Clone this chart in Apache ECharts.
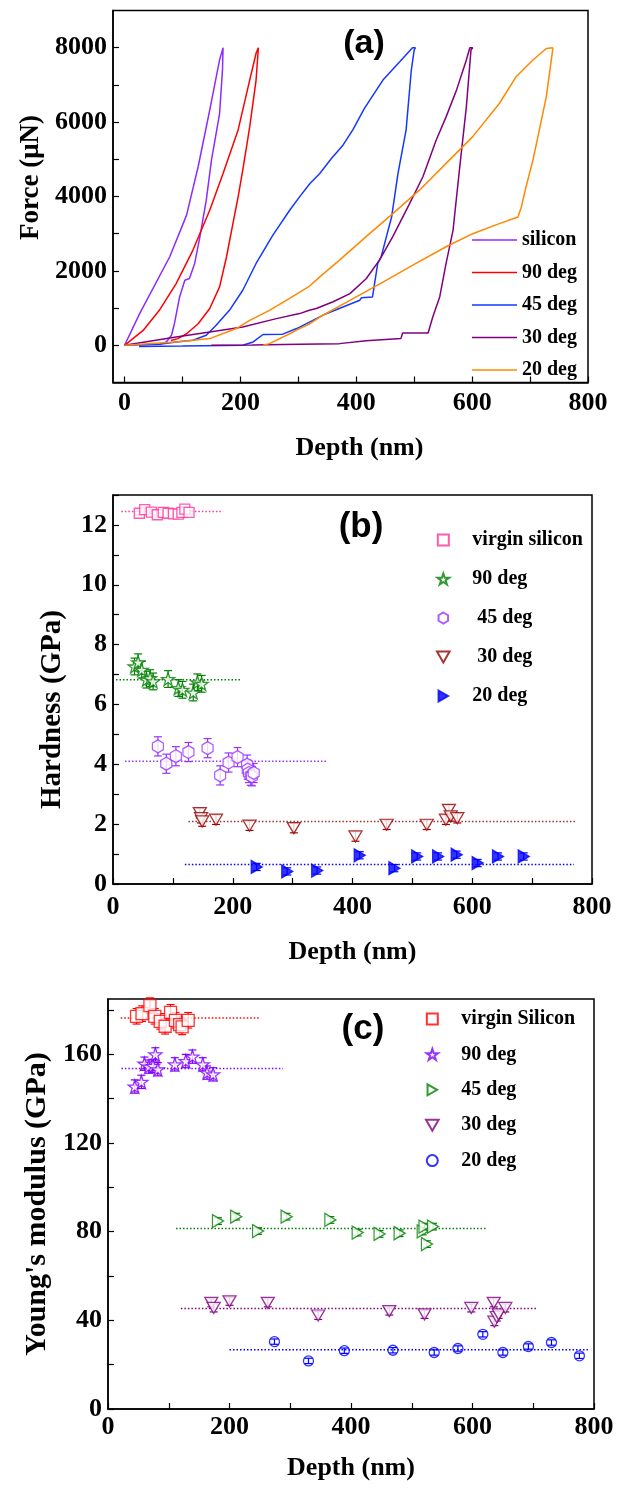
<!DOCTYPE html>
<html>
<head>
<meta charset="utf-8" />
<title></title>
<script src="https://cdn.jsdelivr.net/npm/echarts@6/dist/echarts.min.js"></script>
<style>
	body { margin: 0; background: #fff; }
	#main { width: 626px; height: 1492px; }
</style>
</head>
<body>
<div id="main"></div>
<script>
// ---------- (a) load-displacement curves (depth nm, force uN) ----------
var siDepth = [0, 26, 78, 107, 127, 147, 164, 170, 173, 169, 164, 150, 141, 130, 121, 112, 104, 95, 86, 81, 72, 60];
var siForce = [0, 850, 2380, 3500, 4800, 6320, 7670, 8000, 8000, 7400, 6230, 4980, 3900, 2915, 2200, 1795, 1750, 1300, 580, 270, 90, 25];
var d90Depth = [0, 32, 60, 89, 118, 147, 170, 196, 216, 227, 231, 233, 227, 216, 204, 196, 187, 176, 164, 147, 127, 107, 92, 80];
var d90Force = [0, 400, 940, 1660, 2560, 3630, 4620, 5790, 7130, 7850, 8000, 8000, 7130, 5870, 4710, 3990, 3270, 2380, 1570, 990, 580, 310, 180, 130];
var d45Depth = [0, 60, 89, 118, 141, 158, 181, 204, 227, 256, 285, 302, 320, 337, 357, 377, 394, 414, 446, 475, 497, 502, 500, 495, 486, 472, 461, 452, 443, 437, 428, 409, 406, 377, 348, 320, 297, 273, 239, 222, 204, 100, 25];
var d45Force = [0, 30, 90, 135, 270, 540, 940, 1480, 2200, 2960, 3630, 3990, 4350, 4620, 5020, 5380, 5790, 6370, 7130, 7620, 8000, 8000, 7940, 7400, 5790, 4620, 3450, 2920, 2380, 2200, 1300, 1280, 1210, 1030, 850, 630, 450, 300, 290, 90, 0, -20, -30];
var d30Depth = [0, 89, 147, 204, 262, 302, 319, 331, 360, 389, 417, 440, 463, 492, 515, 538, 555, 573, 590, 596, 601, 598, 590, 578, 567, 555, 544, 532, 524, 480, 477, 417, 371, 302, 220, 150];
var d30Force = [0, 224, 359, 493, 717, 852, 942, 990, 1170, 1390, 1790, 2290, 2920, 3810, 4530, 5520, 6140, 6860, 7670, 8000, 8000, 7940, 6410, 4710, 3090, 2200, 1300, 760, 330, 330, 180, 120, 45, 27, 10, 0];
var d20Depth = [0, 89, 147, 193, 216, 250, 285, 320, 337, 371, 417, 463, 509, 555, 601, 647, 676, 705, 728, 739, 739, 728, 716, 705, 693, 685, 679, 647, 601, 555, 503, 446, 389, 337, 320, 302, 285, 250, 239];
var d20Force = [0, 90, 180, 450, 670, 940, 1260, 1600, 1840, 2290, 2920, 3540, 4170, 4890, 5610, 6500, 7220, 7670, 7980, 8000, 7940, 6680, 5790, 4980, 4260, 3720, 3450, 3270, 3000, 2650, 2200, 1700, 1210, 760, 580, 450, 310, 45, 0];
var legendA = ['silicon', '90 deg', '45 deg', '30 deg', '20 deg'];

// ---------- (b) hardness (GPa) ----------
var hSiX = [44, 53, 64, 74, 84, 92, 101, 109, 115, 120, 127];
var hSiY = [12.39, 12.51, 12.43, 12.34, 12.42, 12.39, 12.37, 12.36, 12.42, 12.53, 12.42];
var h90X = [36, 42, 48, 56, 62, 67, 92, 109, 116, 134, 141, 148];
var h90Y = [7.27, 7.41, 7.16, 6.83, 6.88, 6.77, 6.85, 6.55, 6.49, 6.40, 6.74, 6.69];
var h45X = [75, 89, 105, 126, 158, 179, 193, 208, 224, 225, 227, 230, 232, 235];
var h45Y = [4.60, 4.02, 4.27, 4.41, 4.54, 3.63, 4.06, 4.24, 3.99, 3.82, 3.71, 3.62, 3.60, 3.71];
var h30X = [145, 147, 149, 172, 228, 302, 405, 457, 524, 556, 561, 564, 575];
var h30Y = [2.37, 2.20, 2.09, 2.15, 1.95, 1.87, 1.59, 1.98, 1.98, 2.15, 2.48, 2.26, 2.20];
var h20X = [240, 291, 341, 412, 470, 508, 543, 574, 609, 643, 686];
var h20Y = [0.57, 0.42, 0.45, 0.96, 0.53, 0.92, 0.92, 0.98, 0.70, 0.92, 0.92];
var hErr = [0.06, 0.28, 0.32, 0.16, 0.12];
// mean lines: [from depth, to depth, value]
var hMean = [[14, 184, 12.45], [5, 215, 6.83], [20, 358, 4.10], [126, 774, 2.09], [120, 770, 0.65]];
var legendB = ['virgin silicon', '90 deg', ' 45 deg', ' 30 deg', '20 deg'];

// ---------- (c) Young's modulus (GPa) ----------
var eSiX = [47, 56, 69, 77, 86, 94, 103, 111, 118, 122, 132];
var eSiY = [177.2, 178.4, 182, 177.2, 174.9, 172.7, 179, 175.4, 173.4, 172.4, 175.4];
var e90X = [44, 55, 60, 67, 74, 78, 82, 110, 128, 139, 156, 163, 173];
var e90Y = [145.5, 147.6, 155.8, 154.5, 154.8, 160, 153.3, 155.5, 157, 159, 155.5, 151.8, 151];
var e45X = [181, 211, 247, 294, 366, 411, 447, 480, 518, 521, 525, 535];
var e45Y = [84.8, 86.8, 80.3, 86.8, 85.3, 79.6, 79, 79.3, 80.1, 82.3, 74.4, 82.3];
var e30X = [170, 174, 200, 263, 346, 463, 521, 598, 635, 636, 640, 643, 654];
var e30Y = [47.9, 45.6, 48.6, 47.9, 42.2, 44.2, 42.7, 45.6, 47.9, 39.4, 41.5, 42.7, 45.6];
var e20X = [274, 330, 389, 469, 537, 576, 617, 650, 692, 730, 776];
var e20Y = [30.4, 21.7, 26.3, 26.5, 25.5, 27.3, 33.7, 25.5, 28.2, 30, 24];
var eErr = [3.5, 3, 1.5, 1.8, 1.2];
var eMean = [[21, 249, 176.4], [22, 288, 153.6], [112, 624, 81.5], [120, 706, 45.4], [200, 790, 26.7]];
var legendC = ['virgin Silicon', '90 deg', '45 deg', '30 deg', '20 deg'];

// ticks / labels
var depthTicks = [0, 100, 200, 300, 400, 500, 600, 700, 800];
var depthLabels = [0, 200, 400, 600, 800];
var forceTicks = [0, 1000, 2000, 3000, 4000, 5000, 6000, 7000, 8000];
var forceLabels = [0, 2000, 4000, 6000, 8000];
var hardTicks = [0, 1, 2, 3, 4, 5, 6, 7, 8, 9, 10, 11, 12, 13];
var hardLabels = [0, 2, 4, 6, 8, 10, 12];
var modTicks = [0, 20, 40, 60, 80, 100, 120, 140, 160, 180];
var modLabels = [0, 40, 80, 120, 160];

var SERIF = 'Liberation Serif';
// symbols as paths so legend icons keep their aspect
var STAR = 'path://M50,0 L61.8,35.1 L97.6,35.1 L68.5,56.7 L79.4,90.5 L50,69.1 L20.6,90.5 L31.5,56.7 L2.4,35.1 L38.2,35.1 Z';
var HEX = 'path://M50,0 L93.3,25 L93.3,75 L50,100 L6.7,75 L6.7,25 Z';
var SQUARE = 'path://M0,0 L100,0 L100,100 L0,100 Z';
var TRI_DOWN = 'path://M0,0 L100,0 L50,87 Z';
var TRI_RIGHT = 'path://M0,0 L87,50 L0,100 Z';
var RING = 'path://M50,0 A50,50 0 1,1 49.9,0 Z';

var names = {};
['a', 'b', 'c'].forEach(function (p, k) {
	var lab = [legendA, legendB, legendC][k];
	['Si', '90', '45', '30', '20'].forEach(function (s, i) { names[p + s] = lab[i]; });
});

function pairs(xs, ys) {
	return xs.map(function (x, i) { return [x, ys[i]]; });
}

function curve(id, xs, ys, color) {
	return {
		name: id, type: 'line', xAxisIndex: 0, yAxisIndex: 0, data: pairs(xs, ys),
		symbol: 'none', lineStyle: { color: color, width: 1.5 }, itemStyle: { color: color }
	};
}

function dots(id, g, xs, ys, color, symbol, size, fill) {
	return {
		name: id, type: 'scatter', xAxisIndex: g, yAxisIndex: g, z: 4, data: pairs(xs, ys),
		symbol: symbol, symbolSize: size,
		itemStyle: { color: fill, borderColor: color, borderWidth: 1.3 }
	};
}

function bars(g, xs, ys, err, color) {
	return {
		type: 'custom', xAxisIndex: g, yAxisIndex: g, z: 3, silent: true,
		data: xs.map(function (x, i) { return [x, ys[i], err]; }),
		encode: { x: 0, y: 1 },
		renderItem: function (params, api) {
			var x = api.value(0), y = api.value(1), e = api.value(2);
			var hi = api.coord([x, y + e]), lo = api.coord([x, y - e]);
			var st = { stroke: color, lineWidth: 1.2 };
			return {
				type: 'group', children: [
					{ type: 'line', shape: { x1: hi[0], y1: hi[1], x2: lo[0], y2: lo[1] }, style: st },
					{ type: 'line', shape: { x1: hi[0] - 4, y1: hi[1], x2: hi[0] + 4, y2: hi[1] }, style: st },
					{ type: 'line', shape: { x1: lo[0] - 4, y1: lo[1], x2: lo[0] + 4, y2: lo[1] }, style: st }
				]
			};
		}
	};
}

function mean(g, m, color) {
	return {
		type: 'line', xAxisIndex: g, yAxisIndex: g, z: 2, silent: true, symbol: 'none',
		data: [[m[0], m[2]], [m[1], m[2]]],
		lineStyle: { color: color, width: 1.5, type: [1.5, 2] }
	};
}

var txt = { fontFamily: SERIF, fontWeight: 'bold', color: '#000' };
function plain(v) { return String(v); }

function xAx(g, min, gap, margin, pad) {
	return {
		gridIndex: g, type: 'value', min: min, max: 800,
		name: 'Depth (nm)', nameLocation: 'middle', nameGap: gap,
		nameTextStyle: Object.assign({ fontSize: 26, padding: pad }, txt),
		axisLine: { onZero: false, lineStyle: { color: '#000', width: 1.5 } },
		axisTick: { inside: true, length: 6, customValues: depthTicks, lineStyle: { color: '#000', width: 1.2 } },
		axisLabel: Object.assign({ customValues: depthLabels, margin: margin, fontSize: 26, formatter: plain }, txt),
		splitLine: { show: false }
	};
}

function yAx(g, min, max, name, gap, size, ticks, labels, pad) {
	return {
		gridIndex: g, type: 'value', min: min, max: max,
		name: name, nameLocation: 'middle', nameGap: gap,
		nameTextStyle: Object.assign({ fontSize: size, padding: pad }, txt),
		axisLine: { onZero: false, lineStyle: { color: '#000', width: 1.5 } },
		axisTick: { inside: true, length: 6, customValues: ticks, lineStyle: { color: '#000', width: 1.2 } },
		axisLabel: Object.assign({ customValues: labels, margin: 6, fontSize: 26, formatter: plain }, txt),
		splitLine: { show: false }
	};
}

function legend(ids, left, top, w, h, gap, icon) {
	var l = {
		data: ids, orient: 'vertical', left: left, top: top, itemWidth: w, itemHeight: h, itemGap: gap,
		selectedMode: false,
		formatter: function (n) { return names[n]; },
		textStyle: Object.assign({ fontSize: 20, lineHeight: 22 }, txt)
	};
	if (icon) l.icon = icon;
	return l;
}

var frame = { show: true, borderColor: '#000', borderWidth: 1.5 };

var option = {
	animation: false,
	backgroundColor: '#fff',
	grid: [
		Object.assign({ left: 113, right: 38, top: 10.5, height: 372 }, frame),
		Object.assign({ left: 113, right: 34, top: 495, height: 389 }, frame),
		Object.assign({ left: 108, right: 32, top: 999, height: 410 }, frame)
	],
	xAxis: [xAx(0, -20, 53, 8, [0, 0, 0, 18]), xAx(1, 0, 55, 10, 0), xAx(2, 0, 46, 5, 0)],
	yAxis: [
		yAx(0, -1000, 9000, 'Force (\u03bcN)', 60, 27, forceTicks, forceLabels, [0, 0, 0, 38]),
		yAx(1, 0, 13, 'Hardness (GPa)', 46, 29, hardTicks, hardLabels, [0, 40, 0, 0]),
		yAx(2, 0, 185, "Young's modulus (GPa)", 49, 30, modTicks, modLabels, 0)
	],
	legend: [
		legend(['aSi', 'a90', 'a45', 'a30', 'a20'], 467, 224, 45, 1.6, 10.5, 'rect'),
		legend(['bSi', 'b90', 'b45', 'b30', 'b20'], 431, 524, 48, 11, 17),
		legend(['cSi', 'c90', 'c45', 'c30', 'c20'], 420, 1003, 48, 11, 13.4)
	],
	graphic: [
		{ type: 'text', x: 364, y: 44, style: { text: '(a)', font: 'bold 34px "Liberation Sans"', fill: '#000', align: 'center', verticalAlign: 'middle' } },
		{ type: 'text', x: 361, y: 527, style: { text: '(b)', font: 'bold 35px "Liberation Sans"', fill: '#000', align: 'center', verticalAlign: 'middle' } },
		{ type: 'text', x: 363, y: 1029, style: { text: '(c)', font: 'bold 35px "Liberation Sans"', fill: '#000', align: 'center', verticalAlign: 'middle' } }
	],
	series: [
		curve('aSi', siDepth, siForce, '#8B2BFF'),
		curve('a90', d90Depth, d90Force, '#FF0000'),
		curve('a45', d45Depth, d45Force, '#1438FF'),
		curve('a30', d30Depth, d30Force, '#800080'),
		curve('a20', d20Depth, d20Force, '#FF8800'),

		mean(1, hMean[0], '#FF3399'), mean(1, hMean[1], '#008000'), mean(1, hMean[2], '#9933FF'),
		mean(1, hMean[3], '#993333'), mean(1, hMean[4], '#0000FF'),
		bars(1, hSiX, hSiY, hErr[0], '#FF3399'),
		bars(1, h90X, h90Y, hErr[1], '#008000'),
		bars(1, h45X, h45Y, hErr[2], '#9933FF'),
		bars(1, h30X, h30Y, hErr[3], '#990000'),
		bars(1, h20X, h20Y, hErr[4], '#0000FF'),
		dots('bSi', 1, hSiX, hSiY, '#FF3399', SQUARE, 10, '#fff'),
		dots('b90', 1, h90X, h90Y, '#008000', STAR, 13, '#fff'),
		dots('b45', 1, h45X, h45Y, '#9933FF', HEX, [11, 13], '#fff'),
		dots('b30', 1, h30X, h30Y, '#990000', TRI_DOWN, [13, 11], '#fff'),
		dots('b20', 1, h20X, h20Y, '#0000FF', TRI_RIGHT, [11, 13], '#0000FF'),

		mean(2, eMean[0], '#FF0000'), mean(2, eMean[1], '#8000FF'), mean(2, eMean[2], '#008000'),
		mean(2, eMean[3], '#800080'), mean(2, eMean[4], '#0000FF'),
		bars(2, eSiX, eSiY, eErr[0], '#FF0000'),
		bars(2, e90X, e90Y, eErr[1], '#8000FF'),
		bars(2, e45X, e45Y, eErr[2], '#008000'),
		bars(2, e30X, e30Y, eErr[3], '#800080'),
		bars(2, e20X, e20Y, eErr[4], '#0000FF'),
		dots('cSi', 2, eSiX, eSiY, '#FF0000', SQUARE, 12, '#fff'),
		dots('c90', 2, e90X, e90Y, '#8000FF', STAR, 13, '#fff'),
		dots('c45', 2, e45X, e45Y, '#008000', TRI_RIGHT, [11, 13], '#fff'),
		dots('c30', 2, e30X, e30Y, '#800080', TRI_DOWN, [13, 11], '#fff'),
		dots('c20', 2, e20X, e20Y, '#0000FF', RING, 10, 'transparent')
	]
};

var chart = echarts.init(document.getElementById('main'));
chart.setOption(option);
</script>
</body>
</html>
